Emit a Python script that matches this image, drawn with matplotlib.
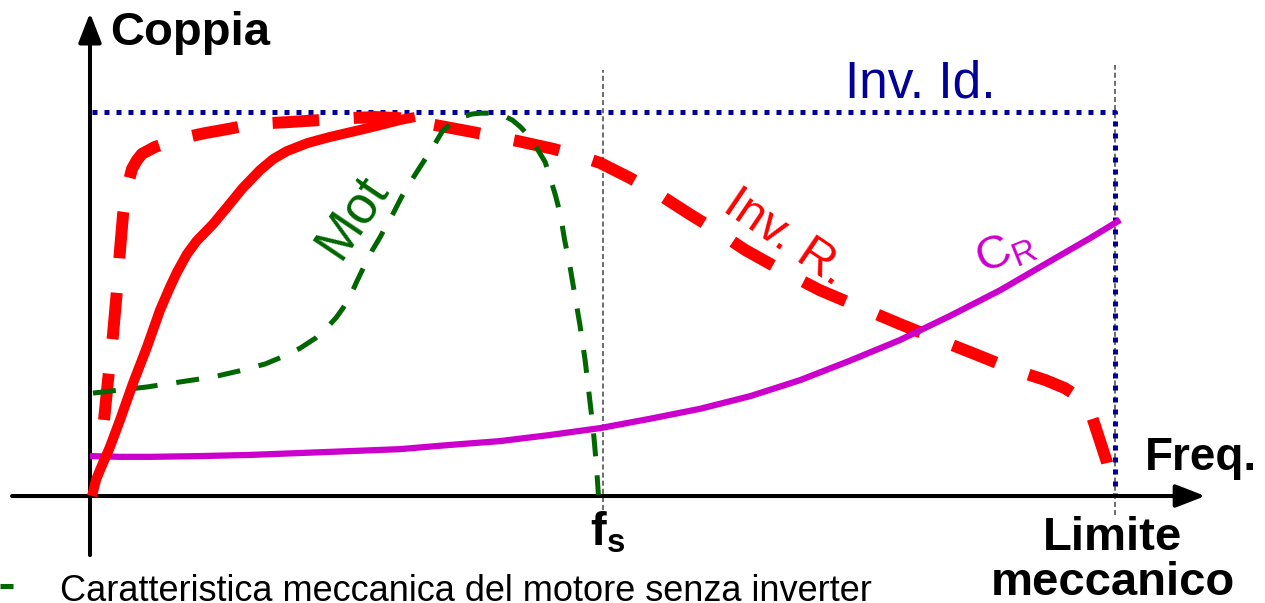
import matplotlib
matplotlib.use("Agg")
import matplotlib.pyplot as plt

plt.rcParams["font.family"] = ["Liberation Sans", "DejaVu Sans"]
plt.rcParams["mathtext.fontset"] = "custom"
plt.rcParams["mathtext.rm"] = "Liberation Sans"
plt.rcParams["mathtext.bf"] = "Liberation Sans:bold"
plt.rcParams["mathtext.it"] = "Liberation Sans:italic"

# Frequency in Hz, torque in % of the ideal-inverter torque
f_sync = 50.0
f_limit = 100.0
torque_ideal = 100.0

# Motor with inverter (solid red)
inv_freq = [0.2, 0.59, 0.98, 1.95, 2.93, 4.20, 5.56, 6.83, 7.80, 8.49, 9.46, 10.4,
            12.0, 13.4, 14.9, 16.6, 17.9, 19.2, 21.2, 23.4, 26.3, 28.3, 30.2, 31.7]
inv_torque = [0.0, 4.2, 6.8, 12.8, 19.8, 29.4, 38.8, 48.4, 54.4, 58.3, 63.0, 66.4,
              70.8, 75.3, 80.2, 84.9, 87.8, 89.8, 91.9, 93.5, 95.3, 96.6, 97.9, 98.7]

# Real inverter envelope (dashed red)
invr_freq = [1.37, 1.76, 2.24, 2.63, 2.93, 3.22, 3.61, 4.10, 4.59, 5.07, 6.34, 7.80,
             9.46, 11.2, 12.9, 15.1, 17.4, 19.5, 22.4, 25.4, 27.8, 30.2, 33.7, 37.3,
             41.8, 45.2, 47.8, 49.8, 52.7, 55.6, 58.5, 61.0, 63.9, 67.8, 71.2, 75.1,
             79.0, 82.9, 86.3, 90.2, 93.2, 95.1, 96.6, 97.8, 98.5, 99.2, 99.6]
invr_torque = [19.8, 30.2, 41.9, 53.6, 64.1, 73.2, 80.2, 85.2, 87.5, 89.1, 90.9, 92.2,
               93.5, 94.5, 95.3, 96.4, 97.1, 97.4, 97.9, 98.4, 98.7, 98.4, 96.6, 94.8,
               92.4, 90.4, 88.5, 86.7, 82.8, 78.4, 73.4, 69.3, 64.1, 58.3, 53.6, 49.2,
               44.8, 40.6, 37.0, 32.8, 30.2, 28.1, 25.5, 20.3, 14.6, 8.9, 4.2]

# Motor without inverter (dashed green)
mot_freq = [0.29, 2.93, 5.56, 8.78, 12.0, 14.6, 17.1, 19.0, 20.5, 22.0, 23.1, 24.0,
            24.7, 25.4, 26.0, 26.7, 27.5, 28.3, 29.1, 29.6, 30.4, 31.2, 32.2, 33.4,
            34.4, 35.3, 36.3, 37.3, 38.2, 39.2, 40.2, 41.2, 42.0, 42.9, 43.7, 44.4,
            44.9, 45.4, 45.9, 46.3, 46.8, 47.3, 47.8, 48.3, 48.7, 49.1, 49.4, 49.6]
mot_torque = [26.8, 27.6, 28.4, 29.7, 31.0, 32.6, 34.4, 36.5, 38.5, 41.1, 43.8, 46.4,
              49.0, 52.1, 55.7, 59.6, 63.8, 67.4, 71.4, 73.7, 77.9, 81.5, 85.7, 90.6,
              95.1, 97.1, 98.7, 99.5, 99.7, 99.7, 99.2, 97.9, 96.1, 93.5, 90.1, 87.0,
              82.8, 78.4, 73.2, 66.7, 60.2, 52.3, 44.5, 35.4, 26.3, 17.2, 8.1, 0.3]

# Load torque C_R (magenta)
load_freq = [0.0, 2.93, 5.85, 10.7, 15.6, 20.5, 25.4, 30.2, 35.1, 40.0, 44.9, 49.8,
             54.6, 59.5, 64.4, 69.3, 74.1, 79.0, 83.9, 88.8, 93.7, 97.6, 100.5]
load_torque = [10.4, 10.2, 10.2, 10.4, 10.7, 11.2, 11.7, 12.2, 13.3, 14.3, 15.9, 17.7,
               20.1, 22.7, 26.0, 30.2, 35.2, 40.6, 46.9, 53.6, 61.2, 67.2, 71.9]

RED = "#FF0000"
GREEN = "#006600"
NAVY = "#000099"
MAGENTA = "#CC00CC"

fig = plt.figure(figsize=(12.65, 6.03), dpi=100)
ax = fig.add_axes([0, 0, 1, 1])
ax.set_xlim(-8.78, 114.63)
ax.set_ylim(-27.86, 129.17)
ax.axis("off")

# Reference verticals at f_s and at the mechanical limit
ax.plot([f_sync, f_sync], [-3.6, 111.0], color="#444444", lw=1.1,
        linestyle=(0, (3.3, 2.0)), zorder=1)
ax.plot([f_limit, f_limit], [-5.0, 112.2], color="#444444", lw=1.1,
        linestyle=(0, (3.3, 2.0)), zorder=1)

# Ideal inverter boundary
ax.plot([0.2, f_limit, f_limit], [torque_ideal, torque_ideal, 0.0], color=NAVY,
        lw=3.6, linestyle=(0, (1.0, 1.4)), solid_joinstyle="miter", zorder=2)

# Coordinate axes with arrow heads
arrow = dict(arrowstyle="-|>,head_length=0.9,head_width=0.35", lw=2.9,
             color="black", mutation_scale=20, shrinkA=0, shrinkB=0)
ax.annotate("", xy=(108.8, 0), xytext=(-7.6, 0), arrowprops=arrow, zorder=3)
ax.annotate("", xy=(0, 125.8), xytext=(0, -15.4), arrowprops=arrow, zorder=3)

ax.plot(invr_freq, invr_torque, color=RED, lw=8.6, linestyle=(0, (3.9, 2.9)),
        dash_joinstyle="round", zorder=4)
ax.plot(load_freq, load_torque, color=MAGENTA, lw=4.5, solid_capstyle="butt",
        solid_joinstyle="round", zorder=5)
ax.plot(mot_freq, mot_torque, color=GREEN, lw=3.6, linestyle=(0, (4.6, 3.8)),
        dash_joinstyle="round", zorder=6)
ax.plot(inv_freq, inv_torque, color=RED, lw=7.2, solid_capstyle="butt",
        solid_joinstyle="round", zorder=7)

# Labels
ax.text(1.95, 117.4, "Coppia", fontsize=34, fontweight="bold", ha="left",
        va="baseline")
ax.text(102.9, 6.8, "Freq.", fontsize=33, fontweight="bold", ha="left",
        va="baseline")
ax.text(99.8, -14.1, "Limite", fontsize=34, fontweight="bold", ha="center",
        va="baseline")
ax.text(99.8, -25.8, "meccanico", fontsize=34, fontweight="bold", ha="center",
        va="baseline")
ax.text(48.8, -12.8, r"$\mathbf{f}_{\mathbf{s}}$", fontsize=34, ha="left",
        va="baseline")
ax.text(73.7, 103.9, "Inv. Id.", fontsize=37, color=NAVY, ha="left",
        va="baseline")
ax.text(25.6, 72.8, "Mot", fontsize=38, color=GREEN, rotation=56,
        rotation_mode="anchor", ha="center", va="center")
ax.text(67.8, 67.2, "Inv. R.", fontsize=35, color=RED, rotation=-34,
        rotation_mode="anchor", ha="center", va="center")
ax.text(89.3, 63.5, r"$\mathrm{C}_{\mathrm{R}}$", fontsize=34, color=MAGENTA,
        rotation=22, rotation_mode="anchor", ha="center", va="center")

# Legend line for the green curve
ax.plot([-8.78, -7.5], [-23.4, -23.4], color=GREEN, lw=3.6, solid_capstyle="butt")
ax.text(-2.9, -27.3, "Caratteristica meccanica del motore senza inverter",
        fontsize=26, ha="left", va="baseline")

fig.savefig("out.png", dpi=100)
